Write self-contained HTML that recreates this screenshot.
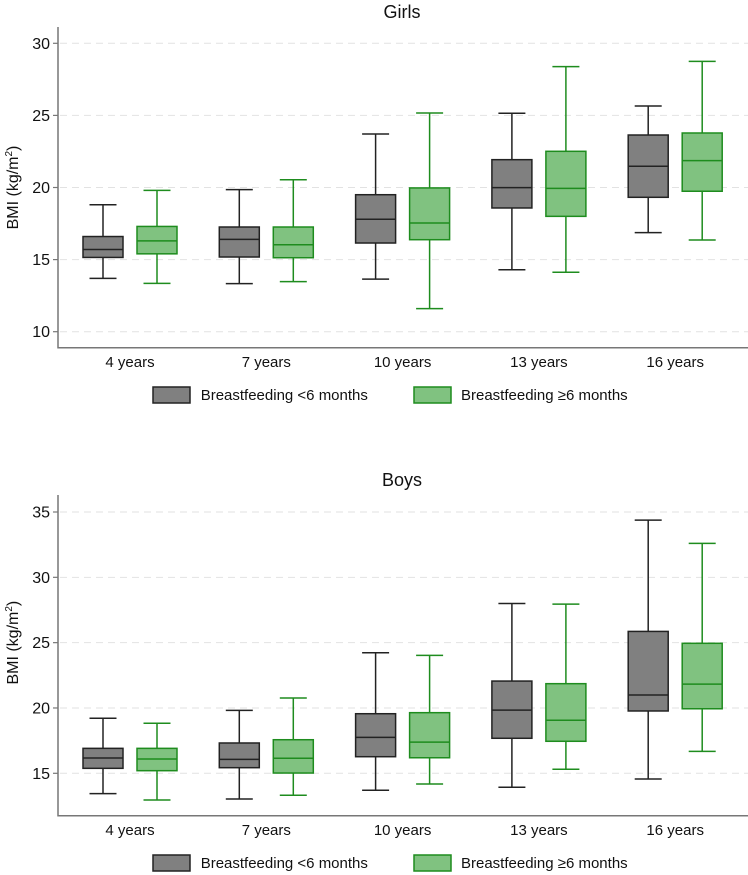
<!DOCTYPE html>
<html><head><meta charset="utf-8"><style>
html,body{margin:0;padding:0;background:#fff;}
svg{display:block;font-family:"Liberation Sans",Arial,sans-serif;}
</style></head><body>
<svg id="chart" width="748" height="875" viewBox="0 0 748 875" xmlns="http://www.w3.org/2000/svg"></svg>
<script>
const categories = ["4 years","7 years","10 years","13 years","16 years"];
// [low whisker, q1, median, q3, high whisker]
const girlsShort = [[13.7,15.15,15.7,16.6,18.8],[13.33,15.18,16.4,17.26,19.85],[13.65,16.15,17.8,19.5,23.71],[14.3,18.58,19.99,21.93,25.15],[16.87,19.32,21.47,23.64,25.65]];
const girlsLong  = [[13.35,15.4,16.3,17.3,19.8],[13.47,15.13,16.03,17.26,20.54],[11.6,16.38,17.54,19.97,25.17],[14.12,18.0,19.94,22.51,28.38],[16.36,19.74,21.86,23.78,28.75]];
const boysShort  = [[13.44,15.38,16.17,16.91,19.21],[13.03,15.43,16.07,17.32,19.82],[13.7,16.27,17.75,19.56,24.23],[13.93,17.68,19.84,22.06,28.0],[14.56,19.77,20.99,25.86,34.38]];
const boysLong   = [[12.96,15.2,16.09,16.91,18.83],[13.32,15.02,16.15,17.57,20.76],[14.18,16.19,17.39,19.64,24.03],[15.31,17.45,19.06,21.86,27.95],[16.68,19.94,21.83,24.95,32.6]];
const girlsTicks = [10,15,20,25,30];
const boysTicks = [15,20,25,30,35];
const seriesNames = ["Breastfeeding <6 months","Breastfeeding \u22656 months"];

const svg = document.getElementById('chart');
const NS = 'http://www.w3.org/2000/svg';
function mk(tag, attrs, parent){const e=document.createElementNS(NS,tag);for(const k in attrs)e.setAttribute(k,attrs[k]);(parent||svg).appendChild(e);return e;}

function panel(title, offY, v0, y0, v1, y1, ticks, shortData, longData, key){
  const g = mk('g',{});
  
  
  const yS = v => y0 + (v - v0) * (y1 - y0) / (v1 - v0);
  const xC = i => 130 + i * 136.3;
  const t = mk('text',{x:402,y:18+offY,'text-anchor':'middle','font-size':18,fill:'#111'},g);
  t.textContent = title;
  
  
  const yl = mk('text',{x:0,y:0,'text-anchor':'middle','font-size':16,fill:'#111',transform:`translate(18,${(y0+y1)/2}) rotate(-90)`},g);
  yl.innerHTML = 'BMI (kg/m<tspan font-size="10" dy="-6">2</tspan><tspan dy="6">)</tspan>';
  
  
  ticks.forEach(v=>{
    const y = yS(v);
    const gl = mk('line',{x1:60,x2:748,y1:y,y2:y,stroke:'#e2e2e2','stroke-width':1,'stroke-dasharray':'7,5'},g);
    
    
    mk('line',{x1:53,x2:58,y1:y,y2:y,stroke:'#777','stroke-width':1.2},g);
    const tl = mk('text',{x:50,y:y+5.5,'text-anchor':'end','font-size':16,fill:'#111'},g);
    tl.textContent = v;
    
    
  });
  const axY = 347.7 + offY;
  const ax = mk('path',{d:`M58 ${27+offY} V${axY} H748`,fill:'none',stroke:'#777','stroke-width':1.5},g);
  
  
  categories.forEach((c,i)=>{
    const xl = mk('text',{x:xC(i),y:367+offY,'text-anchor':'middle','font-size':15,fill:'#111'},g);
    xl.textContent = c;
    
    
    [[shortData,-27,'#808080','#222'],[longData,27,'#80c280','#1e8c1e']].forEach(([d,dx,fill,stroke],s)=>{
      const [lo,q1,md,q3,hi] = d[i];
      const cx = xC(i)+dx;
      const bg = mk('g',{},g);
      
      
      mk('line',{x1:cx,x2:cx,y1:yS(hi),y2:yS(q3),stroke:stroke,'stroke-width':1.5},bg);
      mk('line',{x1:cx,x2:cx,y1:yS(q1),y2:yS(lo),stroke:stroke,'stroke-width':1.5},bg);
      mk('line',{x1:cx-13.5,x2:cx+13.5,y1:yS(hi),y2:yS(hi),stroke:stroke,'stroke-width':1.5},bg);
      mk('line',{x1:cx-13.5,x2:cx+13.5,y1:yS(lo),y2:yS(lo),stroke:stroke,'stroke-width':1.5},bg);
      mk('rect',{x:cx-20,y:yS(q3),width:40,height:yS(q1)-yS(q3),fill:fill,stroke:stroke,'stroke-width':1.5},bg);
      mk('line',{x1:cx-20,x2:cx+20,y1:yS(md),y2:yS(md),stroke:stroke,'stroke-width':1.5},bg);
    });
  });
  [[153,200.7,'#808080','#222'],[414,461,'#80c280','#1e8c1e']].forEach(([sx,tx,fill,stroke],s)=>{
    const lg = mk('g',{},g);
    
    
    mk('rect',{x:sx,y:387+offY,width:37,height:16,fill:fill,stroke:stroke,'stroke-width':1.5},lg);
    const lt = mk('text',{x:tx,y:400+offY,'font-size':15,fill:'#111'},lg);
    lt.textContent = seriesNames[s];
  });
}
panel('Girls', 0, 10, 331.7, 30, 43.3, girlsTicks, girlsShort, girlsLong, 'girls');
panel('Boys', 468, 15, 773.3, 35, 512, boysTicks, boysShort, boysLong, 'boys');
</script>
</body></html>
